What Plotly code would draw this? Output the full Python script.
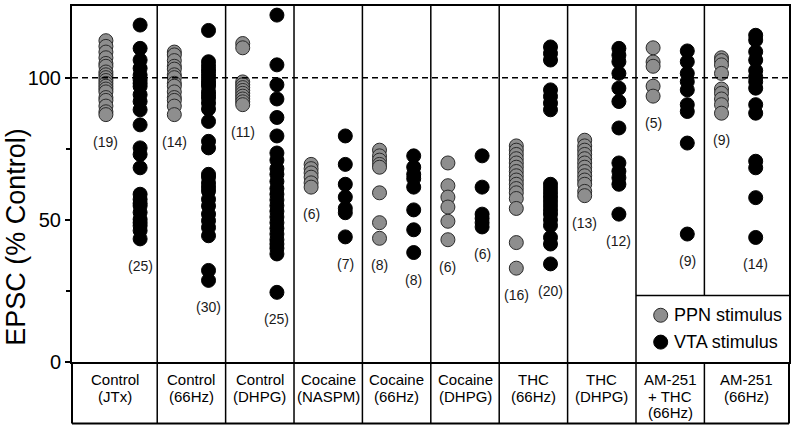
import plotly.graph_objects as go

# ---------------- data ----------------
categories = [
    ["Control", "(JTx)"],
    ["Control", "(66Hz)"],
    ["Control", "(DHPG)"],
    ["Cocaine", "(NASPM)"],
    ["Cocaine", "(66Hz)"],
    ["Cocaine", "(DHPG)"],
    ["THC", "(66Hz)"],
    ["THC", "(DHPG)"],
    ["AM-251", "+ THC", "(66Hz)"],
    ["AM-251", "(66Hz)"],
]

ppn_control_jtx = [113, 111, 109, 107, 105, 104, 102, 101, 100, 99, 98, 97, 96, 95, 93, 92, 90, 88, 87]
ppn_control_66 = [109, 108, 106, 104, 103, 101, 100, 98, 97, 95, 93, 92, 90, 87]
ppn_control_dhpg = [112, 110.5, 98.5, 97.5, 96.5, 95.5, 94.5, 93.5, 92.5, 91.5, 90.5]
ppn_cocaine_naspm = [69.5, 68, 66.5, 65, 63, 61.5]
ppn_cocaine_66 = [74.5, 72.5, 71, 69.5, 68.5, 59.5, 49, 43.5]
ppn_cocaine_dhpg = [70, 62, 58, 54.5, 49.5, 43]
ppn_thc_66 = [76, 74.5, 73, 71.5, 70, 68.5, 67, 65.5, 64, 62.5, 61, 59.5, 57.5, 54, 42, 33]
ppn_thc_dhpg = [78, 76, 74.5, 73, 71.5, 70, 68.5, 67, 65.5, 64, 62.5, 60, 58.5]
ppn_am251_thc = [110.5, 105.5, 104, 97, 93.5]
ppn_am251 = [107, 106, 104.5, 101.5, 96, 94.5, 92.5, 90.5, 87.5]

vta_control_jtx = [118.5, 110.3, 106.2, 103.3, 100.9, 99.2, 98, 96.9, 94, 91.6, 88.7, 83.4, 75.3, 73,
                   68.3, 59, 57.2, 55.8, 54.9, 52.6, 50.2, 49, 47.9, 46.2, 43.3]
vta_control_66 = [116.6, 105.6, 104, 102.7, 101.5, 100.3, 99, 98, 97, 95.1, 94, 92.8, 91, 89, 84.6,
                  77.6, 75.3, 66, 65, 63, 61.5, 60.1, 57.2, 54.9, 52, 49.7, 47.3, 44.4, 32.2, 28.7]
vta_control_dhpg = [122, 104.5, 97.5, 92.5, 86, 79.5, 73.5, 71, 68, 66, 63.5, 61, 59, 57, 55, 53, 51,
                    49, 47, 45, 43, 41.5, 40, 38, 24.5]
vta_cocaine_naspm = [79.5, 69.5, 62.5, 58, 54, 52.5, 44]
vta_cocaine_66 = [72.5, 68.5, 66, 64.5, 61.5, 53.5, 46.5, 38.5]
vta_cocaine_dhpg = [72.5, 61.5, 52, 50.5, 49, 47.5]
vta_thc_66 = [110.8, 108.5, 106.2, 95.7, 93.4, 91, 88.7, 62.5, 61, 59.5, 58, 56.5, 55, 53.5, 52, 50,
              48, 43.8, 41.5, 34.5]
vta_thc_dhpg = [110.3, 107.9, 105.6, 101.5, 96.3, 91.6, 82.3, 70, 67.1, 64.8, 62.5, 52]
vta_am251_thc = [109.4, 105.6, 101.5, 98.6, 95.7, 90.5, 88.1, 77, 45]
vta_am251 = [114.9, 113.2, 109.1, 106.2, 102.5, 100.3, 98.6, 96.3, 90.5, 87.5, 70.6, 68.3, 57.8, 43.8]

ppn_values = [ppn_control_jtx, ppn_control_66, ppn_control_dhpg, ppn_cocaine_naspm, ppn_cocaine_66,
              ppn_cocaine_dhpg, ppn_thc_66, ppn_thc_dhpg, ppn_am251_thc, ppn_am251]
vta_values = [vta_control_jtx, vta_control_66, vta_control_dhpg, vta_cocaine_naspm, vta_cocaine_66,
              vta_cocaine_dhpg, vta_thc_66, vta_thc_dhpg, vta_am251_thc, vta_am251]

y_ticks = [0, 50, 100]
y_minor_ticks = [25, 75]
reference_level = 100
legend_labels = ["PPN stimulus", "VTA stimulus"]

# ---------------- style ----------------
FONT = "Liberation Sans, Arial, sans-serif"
GRAY = "#8e8e8e"
EDGE = "#2a2a2a"
OFFSET = 0.25
X0, X1 = -0.746, 9.737
Y0, Y1 = 0, 125.2
TABLE_BOTTOM = -0.173   # paper units below plot
LEGEND_TOP = 0.187      # paper units


def xp(x):
    return (x - X0) / (X1 - X0)


fig = go.Figure()

px, py, vx, vy = [], [], [], []
for i, (pv, vv) in enumerate(zip(ppn_values, vta_values)):
    px += [i - OFFSET] * len(pv)
    py += pv
    vx += [i + OFFSET] * len(vv)
    vy += vv

fig.add_trace(go.Scatter(x=px, y=py, mode="markers", name=legend_labels[0], showlegend=False,
                         marker=dict(size=14, color=GRAY, line=dict(color=EDGE, width=1))))
fig.add_trace(go.Scatter(x=vx, y=vy, mode="markers", name=legend_labels[1], showlegend=False,
                         marker=dict(size=14, color="black", line=dict(color="black", width=1))))

shapes = []
annotations = []

# dashed reference line
shapes.append(dict(type="line", xref="paper", yref="y", x0=0, x1=1, y0=reference_level, y1=reference_level,
                   line=dict(color="black", width=1.5, dash="6px,4px")))

# separators
for i in range(len(categories) - 1):
    xs = xp(i + 0.5)
    if i == 8:
        shapes.append(dict(type="line", xref="paper", yref="paper", x0=xs, x1=xs, y0=LEGEND_TOP, y1=1,
                           line=dict(color="black", width=1.5)))
        shapes.append(dict(type="line", xref="paper", yref="paper", x0=xs, x1=xs, y0=0, y1=TABLE_BOTTOM,
                           line=dict(color="black", width=1.5)))
    else:
        shapes.append(dict(type="line", xref="paper", yref="paper", x0=xs, x1=xs, y0=TABLE_BOTTOM, y1=1,
                           line=dict(color="black", width=1.5)))

# table outer frame
shapes.append(dict(type="line", xref="paper", yref="paper", x0=0, x1=0, y0=0, y1=TABLE_BOTTOM,
                   line=dict(color="black", width=2)))
shapes.append(dict(type="line", xref="paper", yref="paper", x0=1, x1=1, y0=0, y1=TABLE_BOTTOM,
                   line=dict(color="black", width=2)))
shapes.append(dict(type="line", xref="paper", yref="paper", x0=0, x1=1, y0=TABLE_BOTTOM, y1=TABLE_BOTTOM,
                   line=dict(color="black", width=2)))

# legend box top
shapes.append(dict(type="line", xref="paper", yref="paper", x0=xp(7.5), x1=1, y0=LEGEND_TOP, y1=LEGEND_TOP,
                   line=dict(color="black", width=1.5)))

# legend glyphs
legend_x = (660.7 - 72) / 717
legend_text_x = (671.5 - 72) / 717
legend_ys = [(362 - 315) / 358, (362 - 342) / 358]
legend_fills = [GRAY, "black"]
legend_edges = [EDGE, "black"]
for lab, ly, fc, ec in zip(legend_labels, legend_ys, legend_fills, legend_edges):
    shapes.append(dict(type="circle", xref="paper", yref="paper", xsizemode="pixel", ysizemode="pixel",
                       xanchor=legend_x, yanchor=ly, x0=-7, x1=7, y0=-7, y1=7,
                       fillcolor=fc, line=dict(color=ec, width=1)))
    annotations.append(dict(xref="paper", yref="paper", x=legend_text_x, y=ly, text=lab, showarrow=False,
                            xanchor="left", yanchor="middle", font=dict(family=FONT, size=18, color="black")))

# count labels
for i, (pv, vv) in enumerate(zip(ppn_values, vta_values)):
    for vals, dx in ((pv, -OFFSET), (vv, OFFSET)):
        annotations.append(dict(xref="x", yref="y", x=i + dx, y=min(vals), yshift=-27,
                                text=f"({len(vals)})", showarrow=False, xanchor="center", yanchor="middle",
                                font=dict(family=FONT, size=14, color="#1a1a1a")))

# table labels
bounds = [X0] + [i + 0.5 for i in range(len(categories) - 1)] + [X1]
line_centers_px = [380, 396.5, 413]
for i, lines in enumerate(categories):
    cx = (bounds[i] + bounds[i + 1]) / 2
    for j, txt in enumerate(lines):
        annotations.append(dict(xref="x", yref="paper", x=cx, y=(362 - line_centers_px[j]) / 358,
                                text=txt, showarrow=False, xanchor="center", yanchor="middle",
                                font=dict(family=FONT, size=15, color="black")))

# y-axis title
annotations.append(dict(xref="paper", yref="paper", x=(16 - 72) / 717, y=(362 - 236) / 358,
                        text="EPSC (% Control)", textangle=-90, showarrow=False,
                        xanchor="center", yanchor="middle", font=dict(family=FONT, size=27, color="black")))

fig.update_layout(
    width=795, height=429,
    margin=dict(l=72, r=6, t=4, b=67),
    paper_bgcolor="white", plot_bgcolor="white",
    shapes=shapes, annotations=annotations,
    showlegend=False,
    xaxis=dict(range=[X0, X1], showgrid=False, zeroline=False, showticklabels=False, ticks="",
               showline=True, linecolor="black", linewidth=2, mirror=True),
    yaxis=dict(range=[Y0, Y1], tickvals=y_ticks, showgrid=False, zeroline=False,
               ticks="outside", ticklen=5, tickwidth=2, tickcolor="black",
               tickfont=dict(family=FONT, size=20, color="black"),
               showline=True, linecolor="black", linewidth=2, mirror=True,
               minor=dict(tickvals=y_minor_ticks, ticks="outside", ticklen=4, tickwidth=1.5, tickcolor="black")),
)

fig.write_html("out.html", config={"displayModeBar": False},
               post_script="document.body.style.margin='0';document.body.style.overflow='hidden';")
